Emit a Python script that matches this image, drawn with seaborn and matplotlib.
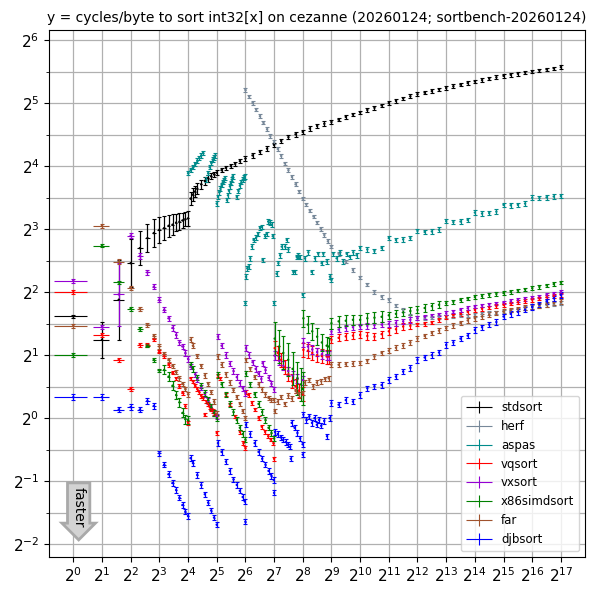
import numpy as np
import pandas as pd
import matplotlib
matplotlib.use("Agg")
import matplotlib.pyplot as plt
import matplotlib.ticker as mticker
from matplotlib.container import ErrorbarContainer
from matplotlib.legend_handler import HandlerErrorbar
import seaborn as sns

TITLE = "y = cycles/byte to sort int32[x] on cezanne (20260124; sortbench-20260124)"
ALGOS = ["stdsort", "herf", "aspas", "vqsort", "vxsort", "x86simdsort", "far", "djbsort"]
COLORS = ["black", "#778899", "darkcyan", "red", "darkviolet", "green", "sienna", "blue"]

SMALL_X = list(range(1, 17))
BIG_X = [512, 609, 724, 861, 1024, 1218, 1448, 1722, 2048, 2435, 2896, 3444,
         4096, 4871, 5793, 6889, 8192, 9742, 11585, 13777, 16384, 19484, 23170, 27554,
         32768, 38968, 46341, 55109, 65536, 77936, 92682, 110218, 131072]

# ---- stdsort ----
stdsort_x = SMALL_X + [17, 18, 19, 20, 22, 24, 26, 28, 30, 32, 36, 40, 45, 50, 56, 64, 76, 91,
                       108, 128, 152, 181, 215, 256, 304, 362, 431] + BIG_X
stdsort_y = ([3.06, 2.37, 3.68, 5.5, 6.49, 7.25, 7.66, 7.94, 8.09, 8.3, 8.4, 8.59, 8.68, 8.8, 8.93, 9.0]
             + [11.2, 11.7, 12.1, 12.5, 13.1, 13.6, 14.0, 14.3, 14.6, 14.9, 15.3, 15.7, 16.0, 16.4,
                16.9, 17.4, 18.0, 18.7, 19.4, 20.2, 21.1, 22.0, 22.7, 23.3, 24.2, 24.9, 25.5]
             + [26.0, 26.7, 27.5, 28.2, 28.9, 29.7, 30.4, 31.2, 32.0, 32.8, 33.7, 34.5, 35.3, 35.9,
                36.5, 37.2, 37.8, 38.5, 39.2, 39.9, 40.6, 41.2, 41.9, 42.5, 43.2, 43.7, 44.2, 44.8,
                45.3, 45.8, 46.4, 46.9, 47.5])
stdsort_spread = ([1.015, 1.22, 1.55, 1.3, 1.21, 1.17, 1.17, 1.15, 1.14, 1.13, 1.12, 1.1, 1.1, 1.09, 1.08, 1.09]
                  + [1.074, 1.07, 1.065, 1.06, 1.05, 1.045, 1.04, 1.035, 1.03, 1.03]
                  + [1.025] * 17 + [1.02] * 33)

# ---- herf ----
herf_x = [64, 70, 76, 83, 91, 99, 108, 117, 128, 140, 152, 166, 181, 197, 215, 235, 256, 279,
          304, 332, 362, 395, 431, 470] + BIG_X
herf_y = ([37.0, 34.4, 32.0, 29.8, 27.7, 25.8, 24.0, 22.3, 20.8, 19.3, 17.9, 16.5, 15.3, 14.2,
           13.1, 12.1, 11.2, 10.5, 9.8, 9.2, 8.6, 8.0, 7.5, 7.0]
          + [6.6, 6.1, 5.6, 5.1, 4.7, 4.35, 4.0, 3.8, 3.68, 3.45, 3.29, 3.1, 3.0, 3.0, 3.02, 3.04,
             3.06, 3.07, 3.09, 3.1, 3.12, 3.15, 3.17, 3.2, 3.23, 3.27, 3.31, 3.35, 3.39, 3.43,
             3.47, 3.5, 3.54])

# ---- aspas ----
aspas_x = ([16, 17, 18, 19, 20, 21, 22, 23, 25, 26, 27, 28, 29, 30, 31,
            32, 33, 34, 35, 36, 37, 38, 39, 41, 42, 43, 44, 45, 46, 47,
            52, 54, 56, 58, 60, 62, 63, 64,
            65, 67, 69, 72, 75, 78, 83, 87, 91, 95, 97, 103, 107, 111, 116, 121, 124, 128,
            136, 142, 148, 154, 167, 174, 181, 204, 212, 221, 230, 239, 256,
            270, 293, 317, 344, 372, 404, 421, 456, 494,
            512, 537, 580, 630, 680, 740, 800, 868, 940] + BIG_X[4:])
aspas_y = ([14.8, 15.3, 15.8, 16.4, 17.0, 17.5, 18.0, 18.5, 13.8, 14.8, 15.8, 16.6, 17.2, 17.6, 18.0,
            10.6, 11.4, 12.0, 12.5, 13.0, 13.4, 13.7, 14.0, 11.0, 11.6, 12.2, 12.8, 13.3, 13.8, 14.3,
            11.4, 12.2, 12.9, 13.4, 13.8, 14.1, 14.3, 3.54,
            4.74, 5.2, 5.3, 5.8, 6.6, 7.1, 7.3, 7.6, 8.1, 8.2, 5.7, 7.4, 7.6, 8.7, 8.6, 8.4, 7.4, 3.54,
            4.9, 5.5, 6.0, 6.6, 6.6, 7.1, 6.4, 5.0, 5.0, 5.9, 6.0, 5.9, 3.88,
            5.8, 6.2, 5.0, 5.8, 6.1, 5.5, 6.1, 5.6, 4.74,
            4.58, 6.1, 5.8, 6.2, 5.6, 6.1, 5.9, 6.2, 6.0]
           + [6.5, 6.4, 6.3, 6.5, 7.25, 7.1, 7.15, 7.25, 7.85, 7.75, 7.8, 7.95, 8.74, 8.65, 8.7, 8.85,
              9.6, 9.5, 9.55, 9.7, 10.45, 10.4, 10.45, 10.6, 11.3, 11.25, 11.35, 11.45, 11.5])

# ---- vqsort ----
vqsort_x = (SMALL_X + list(range(17, 33)) + [33, 35, 40, 44, 50, 56, 61, 64]
            + [65, 69, 75, 81, 88, 95, 103, 111, 118, 126, 128]
            + [130, 140, 152, 166, 181, 197, 215, 234, 256]
            + [260, 290, 322, 362, 406, 456, 480] + BIG_X)
vqsort_y = ([4.0, 2.5, 1.9, 1.38, 2.24, 2.24, 2.38, 2.08, 1.98, 1.80, 1.65, 1.55, 1.42, 1.32, 1.14, 0.95]
            + [1.55, 1.5, 1.43, 1.38, 1.33, 1.28, 1.25, 1.04, 1.2, 1.17, 1.13, 1.1, 1.08, 1.06, 1.04, 0.85]
            + [1.6, 1.55, 1.3, 1.16, 1.02, 0.86, 0.76, 0.72]
            + [1.33, 1.29, 1.18, 1.1, 1.0, 0.91, 0.86, 0.82, 0.79, 0.76, 0.64]
            + [2.16, 2.05, 1.9, 1.75, 1.62, 1.5, 1.42, 1.35, 1.3]
            + [2.12, 2.1, 2.05, 2.0, 1.98, 1.97, 1.97]
            + [2.37, 2.42, 2.46, 2.48, 2.5, 2.47, 2.45, 2.52, 2.6, 2.66, 2.74, 2.76, 2.8, 2.82, 2.86,
               2.95, 3.05, 3.1, 3.15, 3.22, 3.29, 3.33, 3.38, 3.43, 3.48, 3.53, 3.58, 3.63, 3.68,
               3.73, 3.78, 3.83, 3.88])
vqsort_spread = [1.02] * 51 + [1.08] * 16 + [1.04] * 12 + [1.02] * 21

# ---- vxsort ----
vxsort_x = (SMALL_X + [17, 19, 20, 22, 24, 26, 28, 30, 32] + [33, 36, 40, 44, 48, 52, 56, 60, 64]
            + [65, 70, 76, 82, 88, 94, 97, 104, 112, 120, 128]
            + [130, 145, 160, 180, 200, 225, 256]
            + [260, 290, 322, 362, 406, 456, 480] + BIG_X)
vxsort_y = ([4.53, 2.73, 3.9, 7.44, 5.96, 4.97, 4.25, 3.68, 3.3, 3.0, 2.7, 2.5, 2.3, 2.2, 2.05, 1.92]
            + [1.76, 1.62, 1.53, 1.40, 1.30, 1.21, 1.13, 1.06, 1.02]
            + [2.45, 2.22, 2.0, 1.82, 1.68, 1.57, 1.47, 1.39, 1.32]
            + [2.16, 2.0, 1.85, 1.72, 1.63, 1.54, 1.83, 1.7, 1.56, 1.46, 1.37]
            + [1.99, 1.88, 1.78, 1.68, 1.6, 1.55, 1.52]
            + [2.29, 2.2, 2.13, 2.07, 2.02, 2.0, 2.0]
            + [2.59, 2.65, 2.7, 2.72, 2.74, 2.76, 2.78, 2.8, 2.82, 2.85, 2.9, 2.95, 3.0, 3.05, 3.1,
               3.13, 3.17, 3.23, 3.29, 3.35, 3.41, 3.45, 3.49, 3.53, 3.57, 3.62, 3.67, 3.72, 3.77,
               3.82, 3.88, 3.94, 4.0])
vxsort_spread = [1.02, 1.02, 1.42] + [1.03] * 42 + [1.05] * 14 + [1.03] * 12 + [1.02] * 21

# ---- x86simdsort ----
x86simdsort_x = (SMALL_X + [17, 18, 20, 22, 24, 26, 28, 30, 32] + [33, 36, 40, 44, 48, 52, 56, 60, 64]
                 + [65, 72, 80, 88, 96, 104, 112, 120, 128]
                 + [130, 145, 160, 180, 200, 225, 245, 256]
                 + [260, 290, 322, 362, 406, 456, 480] + BIG_X)
x86simdsort_y = ([2.0, 6.68, 4.45, 3.33, 2.66, 2.22, 1.9, 1.69, 1.70, 1.58, 1.43, 1.29, 1.19, 1.06, 0.99, 0.98]
                 + [1.80, 1.72, 1.56, 1.43, 1.32, 1.22, 1.13, 1.06, 1.0]
                 + [1.61, 1.45, 1.3, 1.17, 1.07, 0.98, 0.9, 0.84, 0.79]
                 + [1.63, 1.45, 1.3, 1.17, 1.07, 0.98, 0.9, 0.85, 0.8]
                 + [2.4, 2.2, 2.05, 1.9, 1.72, 1.55, 1.45, 1.38]
                 + [3.0, 2.8, 2.6, 2.45, 2.3, 2.22, 2.2]
                 + [2.84, 2.9, 2.92, 2.95, 2.95, 3.0, 3.02, 3.05, 3.1, 3.15, 3.2, 3.25, 3.29, 3.36,
                    3.43, 3.48, 3.54, 3.6, 3.67, 3.73, 3.79, 3.83, 3.88, 3.92, 3.96, 4.01, 4.07,
                    4.12, 4.18, 4.24, 4.31, 4.37, 4.44])
x86simdsort_spread = ([1.02] * 8 + [1.05] * 8 + [1.03] * 27 + [1.2] * 8 + [1.1] * 7
                      + [1.06] * 8 + [1.04] * 8 + [1.02] * 17)

# ---- far ----
far_x = (SMALL_X + [17, 18, 20, 22, 24, 26, 28, 30, 32] + [33, 36, 40, 44, 48, 52, 56, 60, 64]
         + [65, 72, 80, 88, 96, 104, 112, 120, 128]
         + [130, 140, 152, 166, 181, 197, 215, 234, 256]
         + [270, 300, 330, 360, 400, 440, 480] + BIG_X)
far_y = ([2.76, 8.3, 5.6, 4.18, 3.32, 2.79, 2.47, 2.2, 2.03, 1.9, 1.78, 1.66, 1.55, 1.46, 1.38, 1.3]
         + [2.37, 2.22, 1.98, 1.78, 1.6, 1.46, 1.33, 1.2, 1.05]
         + [1.97, 1.8, 1.62, 1.48, 1.36, 1.26, 1.17, 1.08, 1.0]
         + [1.9, 1.72, 1.57, 1.45, 1.37, 1.3, 1.25, 1.22, 1.22]
         + [1.08, 1.2, 1.26, 1.17, 1.28, 1.24, 1.35, 1.3, 1.32]
         + [1.48, 1.52, 1.42, 1.48, 1.5, 1.54, 1.55]
         + [1.8, 1.8, 1.81, 1.82, 1.83, 1.88, 1.97, 2.05, 2.1, 2.17, 2.22, 2.3, 2.4, 2.47, 2.55,
            2.62, 2.69, 2.77, 2.85, 2.93, 3.0, 3.06, 3.12, 3.18, 3.23, 3.28, 3.32, 3.37, 3.41,
            3.45, 3.5, 3.55, 3.6])

# ---- djbsort ----
djbsort_x = (SMALL_X + [17, 18, 20, 22, 24, 26, 28, 30, 32] + [33, 36, 40, 44, 48, 52, 56, 60, 63, 64]
             + [65, 72, 80, 88, 96, 104, 112, 120, 127, 128]
             + [131, 140, 150, 160, 170, 180, 189, 192, 196, 210, 225, 240, 255, 256]
             + [260, 280, 300, 320, 340, 360, 380, 400, 430, 460, 490] + BIG_X)
djbsort_y = ([1.26, 1.26, 1.10, 1.13, 1.10, 1.21, 1.145, 0.68, 0.60, 0.54, 0.49, 0.454, 0.417, 0.385,
              0.358, 0.341]
             + [0.644, 0.61, 0.536, 0.48, 0.433, 0.395, 0.362, 0.335, 0.31]
             + [0.76, 0.69, 0.62, 0.56, 0.51, 0.48, 0.45, 0.42, 0.40, 0.32]
             + [0.93, 0.84, 0.76, 0.69, 0.64, 0.6, 0.56, 0.53, 0.507, 0.44]
             + [0.86, 0.84, 0.81, 0.79, 0.77, 0.75, 0.73, 0.64, 0.95, 0.9, 0.85, 0.8, 0.75, 0.67]
             + [1.04, 0.98, 1.02, 0.95, 1.0, 0.93, 0.98, 0.92, 0.97, 0.82, 1.0]
             + [1.18, 1.16, 1.22, 1.2, 1.29, 1.39, 1.42, 1.44, 1.52, 1.58, 1.67, 1.74, 1.9, 1.95,
                2.0, 2.06, 2.24, 2.3, 2.4, 2.48, 2.64, 2.72, 2.8, 2.88, 3.06, 3.15, 3.22, 3.3, 3.4,
                3.5, 3.62, 3.74, 3.88])

SERIES = {
    "stdsort": (stdsort_x, stdsort_y, stdsort_spread),
    "herf": (herf_x, herf_y, 1.02),
    "aspas": (aspas_x, aspas_y, 1.025),
    "vqsort": (vqsort_x, vqsort_y, vqsort_spread),
    "vxsort": (vxsort_x, vxsort_y, vxsort_spread),
    "x86simdsort": (x86simdsort_x, x86simdsort_y, x86simdsort_spread),
    "far": (far_x, far_y, 1.025),
    "djbsort": (djbsort_x, djbsort_y, 1.03),
}

frames = []
for name in ALGOS:
    xs, ys, sp = SERIES[name]
    sp = np.broadcast_to(np.asarray(sp, dtype=float), (len(ys),))
    frames.append(pd.DataFrame({"size": np.asarray(xs, float), "cpb": np.asarray(ys, float),
                                "spread": sp, "algo": name}))
df = pd.concat(frames, ignore_index=True)
palette = dict(zip(ALGOS, COLORS))

fig = plt.figure(figsize=(6, 6), dpi=100)
ax = fig.add_axes([0.082, 0.072, 0.893, 0.878])
ax.set_xscale("log", base=2)
ax.set_yscale("log", base=2)

for name in ALGOS:
    d = df[df["algo"] == name]
    y = d["cpb"].to_numpy()
    s = d["spread"].to_numpy()
    yerr = np.vstack([y - y / s, y * s - y])
    # horizontal extent + vertical range, no caps (legend entry)
    ax.errorbar(d["size"], y, yerr=yerr, xerr=0.38, fmt="none", ecolor=palette[name],
                elinewidth=0.8, capsize=0, label=name)
    # caps on the vertical ranges only
    ax.errorbar(d["size"], y, yerr=yerr, fmt="none", ecolor=palette[name],
                elinewidth=0.8, capsize=1.6, capthick=0.8)

sns.scatterplot(data=df, x="size", y="cpb", hue="algo", palette=palette, s=3,
                linewidth=0, legend=False, ax=ax, zorder=3)

ax.set_xlim(2 ** -0.84, 2 ** 17.84)
ax.set_ylim(2 ** -2.2, 2 ** 6.16)
ax.xaxis.set_major_locator(mticker.FixedLocator([2.0 ** k for k in range(0, 18)]))
ax.xaxis.set_major_formatter(mticker.LogFormatterMathtext(base=2))
ax.xaxis.set_minor_locator(mticker.NullLocator())
ax.yaxis.set_major_locator(mticker.FixedLocator([2.0 ** k for k in range(-2, 7)]))
ax.yaxis.set_major_formatter(mticker.LogFormatterMathtext(base=2))
ax.yaxis.set_minor_locator(mticker.FixedLocator([2.0 ** (k + 0.5) for k in range(-3, 7)]))
ax.yaxis.set_minor_formatter(mticker.NullFormatter())
ax.tick_params(axis="both", which="major", labelsize=11)
ax.grid(True, which="major", color="#b0b0b0", lw=0.9)
ax.grid(True, which="minor", axis="y", color="#b0b0b0", lw=0.9)
ax.set_axisbelow(True)
ax.set_xlabel("")
ax.set_ylabel("")
ax.set_title(TITLE, fontsize=10)

ax.legend(loc="lower right", fontsize=8.5, handlelength=2.2,
          handler_map={ErrorbarContainer: HandlerErrorbar(xerr_size=1.1, yerr_size=0.5)})

ax.text(0.055, 0.094, "faster", transform=ax.transAxes, rotation=-90, ha="center", va="center",
        fontsize=10, bbox=dict(boxstyle="rarrow,pad=0.3", fc="lightgray", ec="darkgray", lw=2))

fig.savefig("out.png", dpi=100)
